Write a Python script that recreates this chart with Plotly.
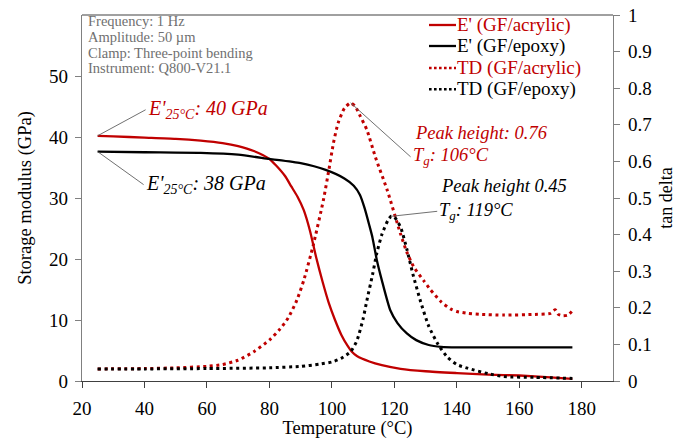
import plotly.graph_objects as go

# ---- DMA data -------------------------------------------------------------
# Storage modulus E' (GPa) vs temperature (°C)
temp_e_acrylic = [25, 30, 40, 50, 58, 65, 70, 75, 80, 82, 85, 87, 89, 91, 93, 95, 97, 99,
                  101, 103, 105, 106.4, 108, 112, 116, 122, 130, 140, 150, 160, 170, 177]
e_acrylic = [40.2, 40.1, 39.9, 39.7, 39.4, 39.0, 38.5, 37.7, 36.4, 35.4, 33.6, 31.9, 30.2,
             28.0, 24.6, 20.2, 16.3, 12.8, 10.0, 7.6, 5.8, 4.8, 4.1, 3.2, 2.6, 2.0, 1.6,
             1.3, 1.05, 0.9, 0.6, 0.35]

temp_e_epoxy = [25, 40, 58, 70, 80, 90, 98, 104, 107, 109, 110.5, 112, 113, 114.4, 116,
                118.7, 121, 124, 127, 131, 135, 140, 177]
e_epoxy = [37.6, 37.5, 37.4, 37.1, 36.4, 35.7, 34.6, 33.2, 32.0, 30.5, 28.3, 25.5, 23.5,
           19.8, 16.5, 11.6, 9.5, 7.8, 6.7, 5.9, 5.6, 5.5, 5.5]

# tan delta vs temperature (°C)
temp_td_acrylic = [25, 40, 50, 60, 65, 70, 75, 80, 83.4, 86, 88.8, 91, 94, 97.3, 99,
                   100.5, 102, 104, 106, 107.5, 109, 111.2, 114, 117.7, 121.9, 124, 126.2,
                   129.4, 131.5, 135, 138, 140, 143.4, 147.6, 155, 165, 170, 171.5, 172.5,
                   174, 175.5, 176.8]
td_acrylic = [0.033, 0.034, 0.036, 0.040, 0.045, 0.057, 0.080, 0.112, 0.142, 0.172, 0.221,
              0.275, 0.370, 0.495, 0.575, 0.650, 0.705, 0.745, 0.760, 0.750, 0.725, 0.686,
              0.610, 0.522, 0.404, 0.352, 0.312, 0.274, 0.250, 0.216, 0.197, 0.190, 0.185,
              0.182, 0.180, 0.182, 0.185, 0.195, 0.182, 0.178, 0.180, 0.190]

temp_td_epoxy = [25, 40, 60, 80, 90, 96, 100, 103, 106, 108, 110, 111.2, 113, 114.4, 116,
                 118, 119, 120, 122, 124, 126, 128.3, 131, 134, 137, 140, 143.4, 150, 155,
                 165, 177]
td_epoxy = [0.033, 0.033, 0.034, 0.036, 0.040, 0.046, 0.052, 0.062, 0.080, 0.110, 0.170,
            0.220, 0.290, 0.350, 0.400, 0.440, 0.450, 0.448, 0.420, 0.360, 0.290, 0.220,
            0.150, 0.100, 0.065, 0.045, 0.035, 0.020, 0.012, 0.010, 0.007]

x_ticks = [20, 40, 60, 80, 100, 120, 140, 160, 180]
e_ticks = [0, 10, 20, 30, 40, 50]

test_info = ["Frequency: 1 Hz", "Amplitude: 50 µm", "Clamp: Three-point bending",
             "Instrument: Q800-V21.1"]
legend_names = ["E' (GF/acrylic)", "E' (GF/epoxy)", "TD (GF/acrylic)", "TD (GF/epoxy)"]

# ---- styling --------------------------------------------------------------
RED = "#C00000"
BLACK = "#000000"
GREY = "#808080"
FONT = "Liberation Serif"
W, H = 689, 439
ML, MR, MT, MB = 82, 76, 15, 58
PW, PH = W - ML - MR, H - MT - MB


def xp(px):
    return (px - ML) / PW


def yp(py):
    return (H - MB - py) / PH


DOT = "3px,3.6px"

fig = go.Figure()
fig.add_trace(go.Scatter(x=temp_e_acrylic, y=e_acrylic, mode="lines",
                         line=dict(color=RED, width=2.3, shape="spline", smoothing=0.6),
                         showlegend=False))
fig.add_trace(go.Scatter(x=temp_e_epoxy, y=e_epoxy, mode="lines",
                         line=dict(color=BLACK, width=2.3, shape="spline", smoothing=0.6),
                         showlegend=False))
fig.add_trace(go.Scatter(x=temp_td_acrylic, y=td_acrylic, mode="lines", yaxis="y2",
                         line=dict(color=RED, width=3, dash=DOT, shape="spline", smoothing=0.6),
                         showlegend=False))
fig.add_trace(go.Scatter(x=temp_td_epoxy, y=td_epoxy, mode="lines", yaxis="y2",
                         line=dict(color=BLACK, width=3, dash=DOT, shape="spline", smoothing=0.6),
                         showlegend=False))

annotations = []
shapes = []

# test conditions box (top-left)
for i, line in enumerate(test_info):
    annotations.append(dict(xref="paper", yref="paper", x=0, y=1, xanchor="left",
                            yanchor="middle", xshift=4, yshift=-(5.7 + i * 15.9),
                            text=line, showarrow=False,
                            font=dict(family=FONT, size=14.5, color="#707070")))

# legend drawn as line samples + coloured labels
legend_rows = [25, 46, 68, 89.3]
legend_colors = [RED, BLACK, RED, BLACK]
legend_dash = ["solid", "solid", "dot", "dot"]
for name, row, col, dash in zip(legend_names, legend_rows, legend_colors, legend_dash):
    shapes.append(dict(type="line", xref="paper", yref="paper",
                       x0=xp(429), x1=xp(456), y0=yp(row), y1=yp(row),
                       line=dict(color=col, width=2.3 if dash == "solid" else 2.6,
                                 dash="solid" if dash == "solid" else "2.6px,2.4px")))
    annotations.append(dict(xref="paper", yref="paper", x=xp(455), y=yp(row),
                            xanchor="left", yanchor="middle", text=name, showarrow=False,
                            font=dict(family=FONT, size=19, color=col)))

# E' at 25 °C call-outs
annotations.append(dict(x=temp_e_acrylic[0], y=e_acrylic[0], xref="x", yref="y",
                        text="<i>E'<sub>25°C</sub>: 40 GPa</i>", showarrow=True,
                        arrowhead=0, arrowwidth=0.9, arrowcolor="#606060",
                        ax=48, ay=-26, xanchor="left", yanchor="middle",
                        font=dict(family=FONT, size=20, color=RED)))
annotations.append(dict(x=temp_e_epoxy[0], y=e_epoxy[0], xref="x", yref="y",
                        text="<i>E'<sub>25°C</sub>: 38 GPa</i>", showarrow=True,
                        arrowhead=0, arrowwidth=0.9, arrowcolor="#606060",
                        ax=46, ay=33, xanchor="left", yanchor="middle",
                        font=dict(family=FONT, size=20, color=BLACK)))

# tan delta peak call-outs
ia = td_acrylic.index(max(td_acrylic))
ie = td_epoxy.index(max(td_epoxy))
annotations.append(dict(x=temp_td_acrylic[ia], y=td_acrylic[ia], xref="x", yref="y2",
                        text="<i>T<sub>g</sub>: 106°C</i>", showarrow=True,
                        arrowhead=0, arrowwidth=0.9, arrowcolor="#606060",
                        ax=60, ay=54, xanchor="left", yanchor="middle",
                        font=dict(family=FONT, size=18.5, color=RED)))
annotations.append(dict(x=temp_td_acrylic[ia], y=td_acrylic[ia], xref="x", yref="y2",
                        text="<i>Peak height: 0.76</i>", showarrow=False,
                        xshift=62, yshift=-30, xanchor="left", yanchor="middle",
                        font=dict(family=FONT, size=18.5, color=RED)))
annotations.append(dict(x=temp_td_epoxy[ie], y=td_epoxy[ie], xref="x", yref="y2",
                        text="<i>T<sub>g</sub>: 119°C</i>", showarrow=True,
                        arrowhead=0, arrowwidth=0.9, arrowcolor="#606060",
                        ax=46, ay=-5, xanchor="left", yanchor="middle",
                        font=dict(family=FONT, size=18.5, color=BLACK)))
annotations.append(dict(x=temp_td_epoxy[ie], y=td_epoxy[ie], xref="x", yref="y2",
                        text="<i>Peak height 0.45</i>", showarrow=False,
                        xshift=48, yshift=30, xanchor="left", yanchor="middle",
                        font=dict(family=FONT, size=18.5, color=BLACK)))

# top frame line
shapes.append(dict(type="line", xref="paper", yref="paper", x0=0, x1=1, y0=1, y1=1,
                   line=dict(color=GREY, width=1.3)))

axis_font = dict(family=FONT, size=19, color="#000000")
title_font = dict(family=FONT, size=18.5, color="#000000")

fig.update_layout(
    width=W, height=H,
    margin=dict(l=ML, r=MR, t=MT, b=MB, pad=0),
    paper_bgcolor="white", plot_bgcolor="white",
    font=dict(family=FONT),
    showlegend=False,
    xaxis=dict(range=[20, 190], tickvals=x_ticks, ticks="outside", ticklen=6,
               tickcolor="#404040", showline=True, linecolor="#404040", linewidth=1.3,
               showgrid=False, zeroline=False, tickfont=axis_font, ticklabelstandoff=4,
               automargin=False,
               title=dict(text="Temperature (°C)", font=title_font, standoff=6)),
    yaxis=dict(range=[0, 60], tickvals=e_ticks, ticks="outside", ticklen=6,
               tickcolor=GREY, showline=True, linecolor=GREY, linewidth=1.3,
               showgrid=False, zeroline=False, tickfont=axis_font, ticklabelstandoff=3,
               automargin=False,
               title=dict(text="Storage modulus (GPa)", font=title_font, standoff=12)),
    yaxis2=dict(range=[0, 1], tick0=0, dtick=0.1, ticks="outside", ticklen=6,
                tickcolor=GREY, showline=True, linecolor=GREY, linewidth=1.3,
                showgrid=False, zeroline=False, tickfont=axis_font, ticklabelstandoff=4,
                overlaying="y", side="right", automargin=False,
                title=dict(text="tan delta", font=dict(family=FONT, size=18, color="#000000"),
                           standoff=8)),
    annotations=annotations,
    shapes=shapes,
)

fig.write_html("out.html")
